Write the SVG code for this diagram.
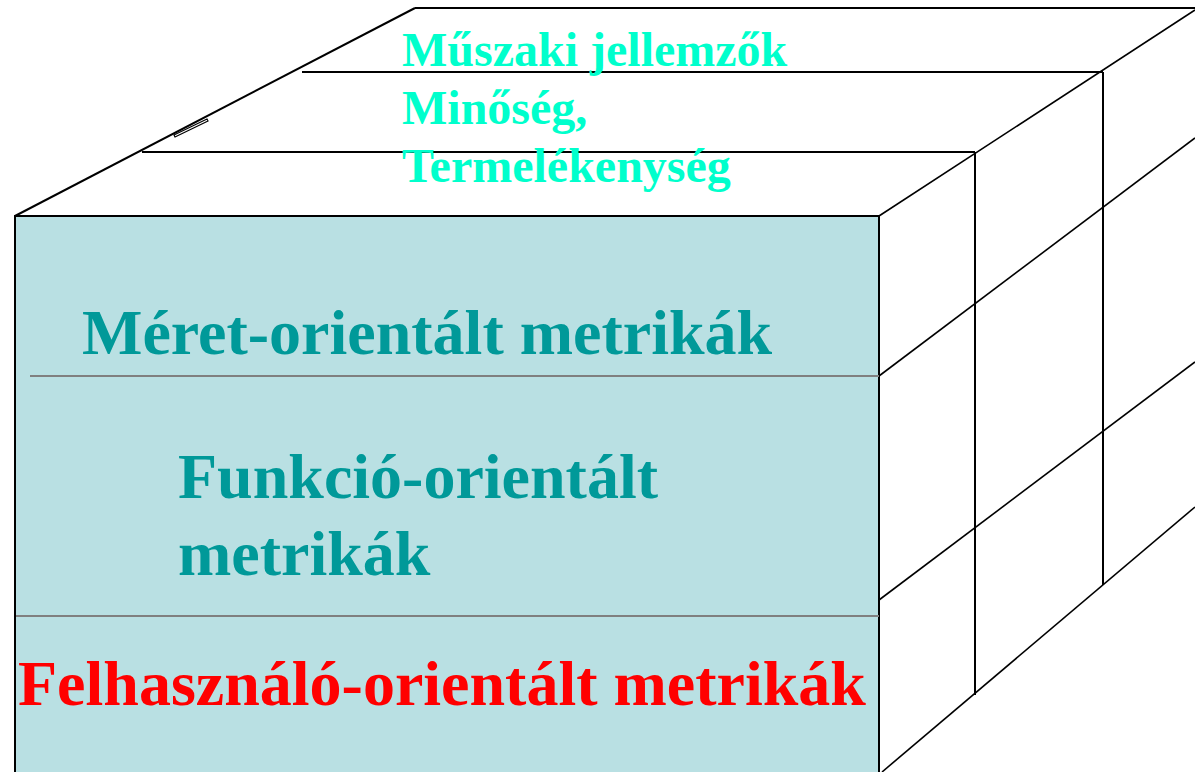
<svg xmlns="http://www.w3.org/2000/svg" width="1195" height="772" viewBox="0 0 1195 772">
<style>
.edge{stroke:#000;stroke-width:2;fill:none}
.face{stroke:#000;stroke-width:2;fill:#B9E0E3}
.thin{stroke:#000;stroke-width:1.6;fill:none}
.div{stroke:#808080;stroke-width:2;fill:none}
.t{font-family:"Liberation Serif","Times New Roman",serif;font-weight:bold}
.top{fill:#00FFCC;font-size:48px}
.mid{fill:#009999;font-size:64px}
.red{fill:#FF0000;font-size:64px}
</style>
<rect x="0" y="0" width="1195" height="772" fill="#fff"/>
<g id="front-face">
<rect x="15" y="216" width="864" height="570" class="face"/>
</g>
<g id="connectors">
<line class="edge" x1="15" y1="216" x2="415" y2="8"/>
<line class="edge" x1="415" y1="8" x2="1195" y2="8"/>
<line class="edge" x1="302" y1="72" x2="1103" y2="72"/>
<line class="edge" x1="142" y1="152" x2="975" y2="152"/>
<polygon class="thin" style="stroke-width:1.2" points="174,135 207,119 208,121 175,137"/>
<line class="thin" x1="879" y1="216" x2="1195" y2="10"/>
<line class="thin" x1="879" y1="376" x2="1195" y2="138"/>
<line class="thin" x1="879" y1="600" x2="1195" y2="362"/>
<line class="thin" x1="882" y1="772" x2="1195" y2="507"/>
<line class="edge" x1="975" y1="152" x2="975" y2="695"/>
<line class="edge" x1="1103" y1="72" x2="1103" y2="585"/>
<line class="div" x1="30" y1="376" x2="879" y2="376"/>
<line class="div" x1="16" y1="616" x2="879" y2="616"/>
</g>
<g id="top-label">
<text class="t top" x="402" y="66">Műszaki jellemzők</text>
<text class="t top" x="402" y="124">Minőség,</text>
<text class="t top" x="402" y="182">Termelékenység</text>
</g>
<g id="meret">
<text class="t mid" x="82" y="354">Méret-orientált metrikák</text>
</g>
<g id="funkcio">
<text class="t mid" x="178" y="498">Funkció-orientált</text>
<text class="t mid" x="178" y="575">metrikák</text>
</g>
<g id="felhasznalo">
<text class="t red" x="18" y="705">Felhasználó-orientált metrikák</text>
</g>
</svg>
